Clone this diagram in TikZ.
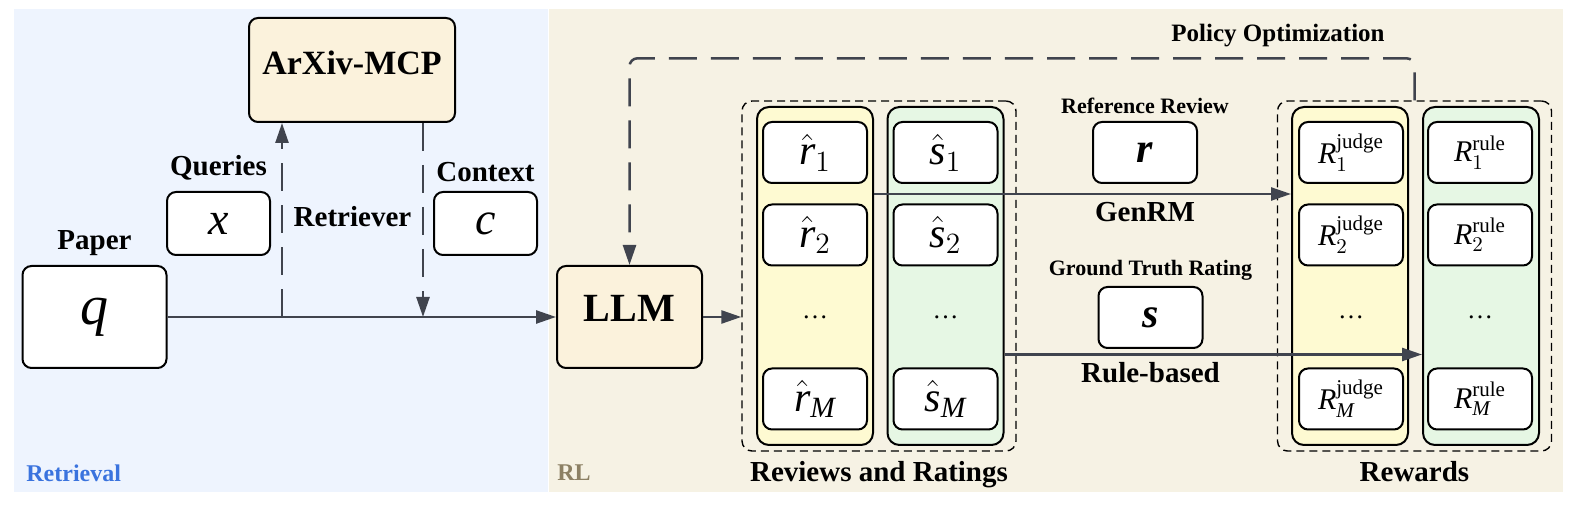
\RequirePackage{fix-cm}
\documentclass[tikz,border=0pt]{standalone}
\usepackage{amsmath}
\usepackage{fontspec}
\setmainfont{Liberation Serif}
\usetikzlibrary{positioning,arrows.meta}

\definecolor{retbg}{RGB}{238,244,254}
\definecolor{rlbg}{RGB}{246,242,228}
\definecolor{boxtan}{RGB}{251,242,220}
\definecolor{colyel}{RGB}{254,250,210}
\definecolor{colgrn}{RGB}{230,247,228}
\definecolor{linegray}{RGB}{64,68,78}
\definecolor{retblue}{RGB}{58,115,222}
\definecolor{rlbrown}{RGB}{140,128,100}

\begin{document}
\begin{tikzpicture}[
    x=0.5pt, y=-0.5pt,
  valbox/.style = {
        draw, rectangle, rounded corners=4.5pt, fill=white,
        line width=1pt, minimum width=52pt, minimum height=30.5pt,
        inner sep=0pt, font=\fontsize{21}{22}\selectfont},
  rewbox/.style = {valbox, font=\fontsize{15}{16}\selectfont},
  tanbox/.style = {valbox, fill=boxtan},
  colbox/.style = {
        draw, rectangle, rounded corners=6pt, line width=1pt,
        minimum width=58pt, minimum height=169pt},
  grpbox/.style = {
        draw, rectangle, rounded corners=5pt, line width=0.7pt,
        dash pattern=on 4pt off 2.5pt,
        minimum width=137pt, minimum height=175pt},
     lbl/.style = {font=\bfseries\fontsize{14.5}{16}\selectfont, inner sep=0pt},
   smlbl/.style = {font=\bfseries\fontsize{11}{12}\selectfont, inner sep=0pt},
  dotlbl/.style = {font=\fontsize{13}{14}\selectfont, inner sep=0pt},
   arrow/.style = {color=linegray, line width=1.25pt,
        -{Stealth[inset=0pt,length=10pt,width=6.5pt]}},
dasharrow/.style = {arrow, dash pattern=on 14pt off 7pt}
                    ]
\useasboundingbox (0,0) rectangle (1574,506);
% the two regions
\fill[retbg] (14,9) rectangle (547.5,492);
\fill[rlbg] (548.5,9) rectangle (1563,492);
\node (lret) [anchor=base west, inner sep=0pt, text=retblue,
        font=\bfseries\fontsize{12}{13}\selectfont] at (26,482) {Retrieval};
\node (lrl) [anchor=base west, inner sep=0pt, text=rlbrown,
        font=\bfseries\fontsize{12}{13}\selectfont] at (557,481) {RL};

% retrieval part
\node (paper) [valbox, minimum width=72pt, minimum height=51pt,
        font=\itshape\fontsize{28}{29}\selectfont] at (94.5,317) {q};
\node (lpaper) [lbl, above=4.5pt of paper] {Paper};
\node (arxiv) [tanbox, minimum width=103pt, minimum height=52pt, text depth=7pt,
        font=\bfseries\fontsize{17}{18}\selectfont] at (352,70) {ArXiv-MCP};
\node (xq) [valbox, minimum width=51.5pt, minimum height=31.5pt,
        font=\itshape\fontsize{23}{24}\selectfont] at (218.5,223.5) {x};
\node (lxq) [lbl, above=5pt of xq] {Queries};
\node (cx) [valbox, minimum width=51.5pt, minimum height=31.5pt,
        font=\itshape\fontsize{23}{24}\selectfont] at (485.5,223.5) {c};
\node (lcx) [lbl, above=4.5pt of cx] {Context};
\node (lretr) [lbl] at (352.5,217) {Retriever};

% the policy model
\node (llm) [tanbox, minimum width=72.5pt, minimum height=51pt, text depth=8.5pt,
        font=\bfseries\fontsize{20}{22}\selectfont] at (629.5,317) {LLM};

% reviews and ratings
\node (revgrp) [grpbox] at (879,276) {};
\node (revy) [colbox, fill=colyel] at (815,276) {};
\node (revg) [colbox, fill=colgrn] at (945.5,276) {};
\node (rhat1) [valbox] at (815,152.5) {$\hat{\text{\itshape r}}_1$};
\node (rhat2) [valbox] at (815,235)   {$\hat{\text{\itshape r}}_2$};
\node (rdots) [dotlbl] at (815,317)   {\ldots};
\node (rhatM) [valbox] at (815,399)   {$\hat{\text{\itshape r}}_{\text{\itshape M}}$};
\node (shat1) [valbox] at (945.5,152.5) {$\hat{\text{\itshape s}}_1$};
\node (shat2) [valbox] at (945.5,235)   {$\hat{\text{\itshape s}}_2$};
\node (sdots) [dotlbl] at (945.5,317)   {\ldots};
\node (shatM) [valbox] at (945.5,399)   {$\hat{\text{\itshape s}}_{\text{\itshape M}}$};
\node (lrev) [lbl, below=4.5pt of revgrp] {Reviews and Ratings};

% reference data in the middle
\node (rref) [valbox, font=\bfseries\itshape\fontsize{21}{22}\selectfont]
        at (1145,152.5) {r};
\node (lrref) [smlbl, above=3.5pt of rref] {Reference Review};
\node (sgt) [valbox, font=\bfseries\itshape\fontsize{21}{22}\selectfont]
        at (1150.5,317.5) {s};
\node (lsgt) [smlbl, above=2.5pt of sgt] {Ground Truth Rating};
\node (lgen) [lbl, below=9pt of rref] {GenRM};
\node (lrule) [lbl, below=6.5pt of sgt] {Rule-based};

% rewards
\node (rewgrp) [grpbox] at (1414.5,276) {};
\node (rewy) [colbox, fill=colyel] at (1350,276) {};
\node (rewg) [colbox, fill=colgrn] at (1481,276) {};
\node (rj1) [rewbox] at (1351,152.5) {$\text{\itshape R}^{\mathrm{judge}}_1$};
\node (rj2) [rewbox] at (1351,235)   {$\text{\itshape R}^{\mathrm{judge}}_2$};
\node (rjdots) [dotlbl] at (1351,317) {\ldots};
\node (rjM) [rewbox] at (1351,399)   {$\text{\itshape R}^{\mathrm{judge}}_{\text{\itshape M}}$};
\node (rr1) [rewbox] at (1480,152.5) {$\text{\itshape R}^{\mathrm{rule}}_1$};
\node (rr2) [rewbox] at (1480,235)   {$\text{\itshape R}^{\mathrm{rule}}_2$};
\node (rrdots) [dotlbl] at (1480,317) {\ldots};
\node (rrM) [rewbox] at (1480,399)   {$\text{\itshape R}^{\mathrm{rule}}_{\text{\itshape M}}$};
\node (lrew) [lbl, below=4.5pt of rewgrp] {Rewards};

\node (lpol) [inner sep=0pt, font=\bfseries\fontsize{12.5}{14}\selectfont]
        at (1278,36) {Policy Optimization};

% connectors
\draw[arrow] (paper) -- (llm);
\path ([xshift=-35pt]arxiv.south) coordinate (qtop);
\path (qtop |- paper.east) coordinate (qfoot);
\draw[dasharrow] (qfoot) -- (qtop);
\path ([xshift=35.5pt]arxiv.south) coordinate (ctop);
\draw[dasharrow] (ctop) -- (ctop |- paper.east);
\draw[arrow] (llm.east) -- (llm.east -| revgrp.west);
\path ([yshift=-5pt]rhat1.south) coordinate (gen);
\draw[arrow] (gen -| revy.east) -- (gen -| rewy.west);
\path ([yshift=6.5pt]shatM.north) coordinate (rul);
\draw[arrow] (rul -| revg.east) -- (rul -| rewg.west);
\draw[dasharrow, rounded corners=4pt] (rewgrp.north) -- ++(0pt,21pt) -| (llm.north);
\end{tikzpicture}
\end{document}
